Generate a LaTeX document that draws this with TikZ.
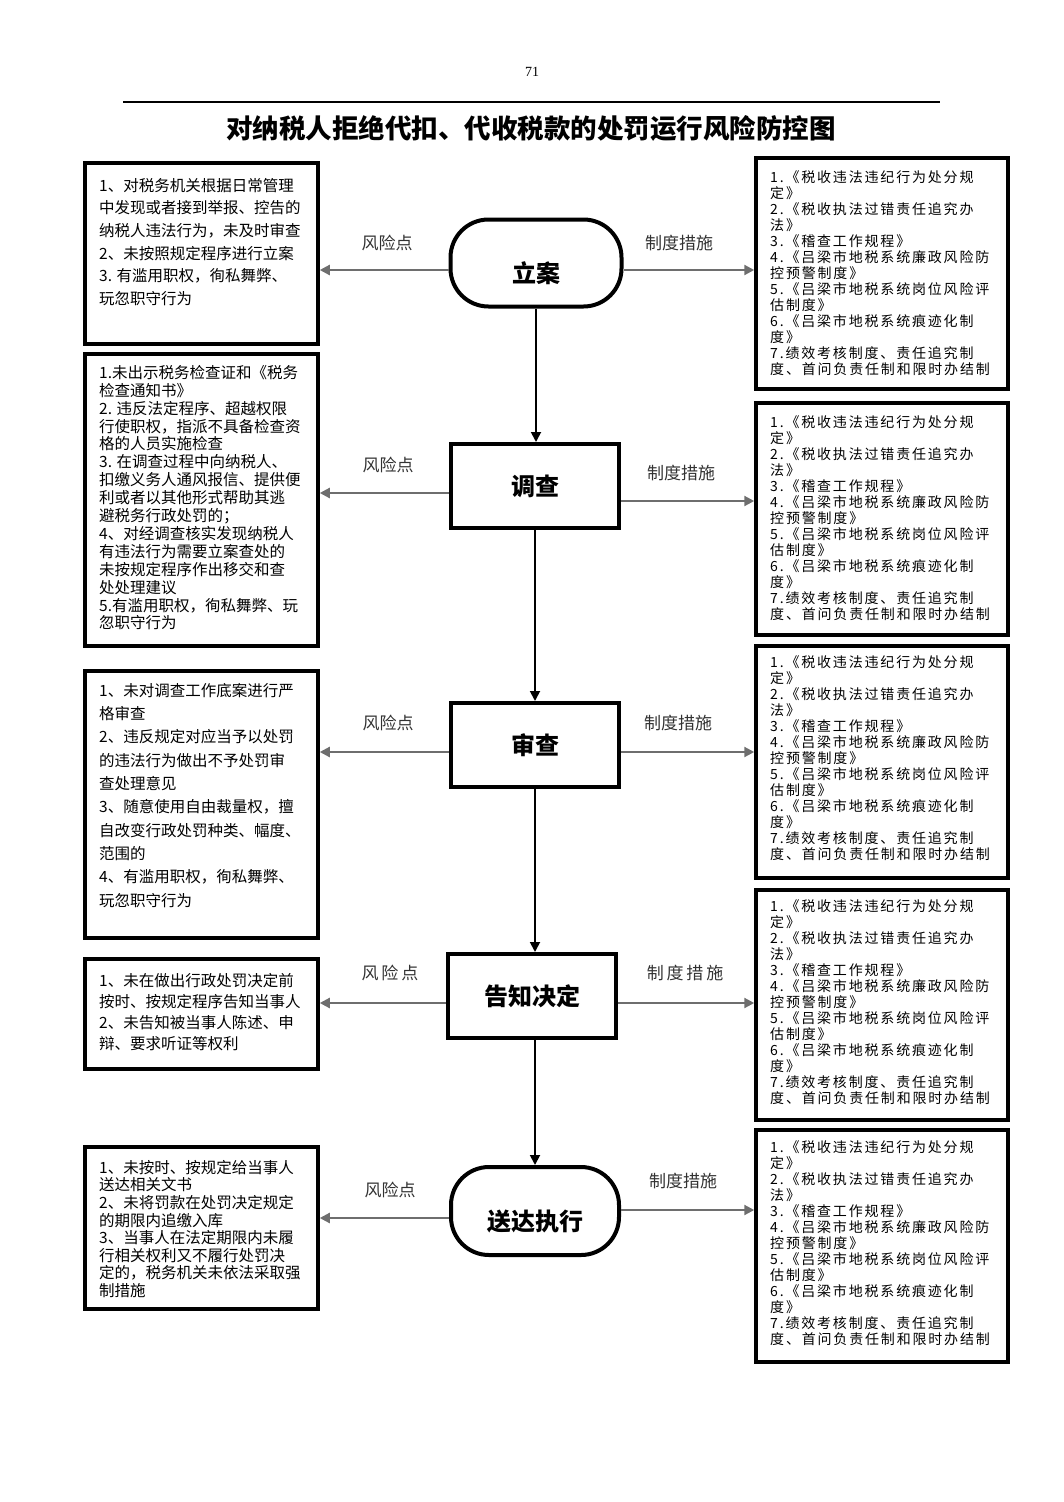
\documentclass[tikz,border=0pt]{standalone}
\usepackage{fontspec}
\setmainfont{Noto Sans CJK SC}
\newfontfamily\listfont{Noto Sans CJK SC}[LetterSpace=13]
\newfontfamily\pagenumfont{Liberation Serif}
\usetikzlibrary{arrows.meta}

\newcommand{\rulelist}{1.《税收违法违纪行为处分规\\定》\\2.《税收执法过错责任追究办\\法》\\3.《稽查工作规程》\\4.《吕梁市地税系统廉政风险防\\控预警制度》\\5.《吕梁市地税系统岗位风险评\\估制度》\\6.《吕梁市地税系统痕迹化制\\度》\\7.绩效考核制度、责任追究制\\度、首问负责任制和限时办结制}

\begin{document}
\begin{tikzpicture}[x=1pt,y=1pt,yscale=-1,xscale=1,
  box/.style={draw, line width=3.5pt, inner sep=0pt},
  stage/.style={draw, line width=4pt, minimum width=168pt, minimum height=84pt, font=\bfseries\fontsize{24}{24}\selectfont},
  endstage/.style={stage, rounded corners=38pt, text height=38pt, text depth=0pt},
  txt/.style={anchor=north west, inner sep=0pt, align=left},
  listtxt/.style={txt, font=\listfont\fontsize{14}{16}\selectfont},
  riskarrow/.style={draw={rgb,255:red,110;green,110;blue,110}, line width=2.2pt, -{Triangle[length=10pt,width=10pt]}},
  flowarrow/.style={draw=black, line width=1.8pt, -{Triangle[length=10pt,width=10pt]}},
  tag/.style={inner sep=0.75pt, text={rgb,255:red,50;green,50;blue,50}, font=\fontsize{17}{17}\selectfont}]
\useasboundingbox (0,0) rectangle (1063,1502);

% Text Node
\node (pagenum) at (532,72) {\pagenumfont\fontsize{14}{14}\selectfont 71};
%Straight Lines
\draw [line width=1.5pt] (123,102) -- (940,102);
% Text Node
\node (title) at (531,128) [font=\bfseries\fontsize{26.5}{26.5}\selectfont] {对纳税人拒绝代扣、代收税款的处罚运行风险防控图};

%Shape: Stages
\node [endstage, minimum width=171pt, minimum height=87pt] (filing) at (536,263) {立案};
\node [stage] (survey) at (535,486) {调查};
\node [stage] (review) at (535,745) {审查};
\node [stage] (notice) at (532,996) {告知决定};
\node [endstage, minimum width=168pt, minimum height=88pt] (execute) at (535,1211) {送达执行};

%Shape: Risk boxes
\node [box, minimum width=233pt, minimum height=181pt] (risk1) at (201.5,253.5) {};
\node [box, minimum width=233pt, minimum height=292pt] (risk2) at (201.5,500) {};
\node [box, minimum width=233pt, minimum height=267pt] (risk3) at (201.5,804.5) {};
\node [box, minimum width=233pt, minimum height=110pt] (risk4) at (201.5,1014) {};
\node [box, minimum width=233pt, minimum height=162pt] (risk5) at (201.5,1228) {};

%Shape: Rule boxes
\node [box, minimum width=252pt, minimum height=231pt] (rule1) at (882,273.5) {};
\node [box, minimum width=252pt, minimum height=232pt] (rule2) at (882,519) {};
\node [box, minimum width=252pt, minimum height=232pt] (rule3) at (882,762) {};
\node [box, minimum width=252pt, minimum height=230pt] (rule4) at (882,1005) {};
\node [box, minimum width=252pt, minimum height=232pt] (rule5) at (882,1246) {};

% Text Node
\node [txt, font=\fontsize{15.5}{22.6}\selectfont] (risk1txt) at (99,178) {1、对税务机关根据日常管理\\中发现或者接到举报、控告的\\纳税人违法行为，未及时审查\\2、未按照规定程序进行立案\\3. 有滥用职权，徇私舞弊、\\玩忽职守行为};
% Text Node
\node [txt, font=\fontsize{15.5}{17.9}\selectfont] (risk2txt) at (99,365) {1.未出示税务检查证和《税务\\检查通知书》\\2. 违反法定程序、超越权限\\行使职权，指派不具备检查资\\格的人员实施检查\\3. 在调查过程中向纳税人、\\扣缴义务人通风报信、提供便\\利或者以其他形式帮助其逃\\避税务行政处罚的；\\4、对经调查核实发现纳税人\\有违法行为需要立案查处的\\未按规定程序作出移交和查\\处处理建议\\5.有滥用职权，徇私舞弊、玩\\忽职守行为};
% Text Node
\node [txt, font=\fontsize{15.5}{23.3}\selectfont] (risk3txt) at (99,683) {1、未对调查工作底案进行严\\格审查\\2、违反规定对应当予以处罚\\的违法行为做出不予处罚审\\查处理意见\\3、随意使用自由裁量权，擅\\自改变行政处罚种类、幅度、\\范围的\\4、有滥用职权，徇私舞弊、\\玩忽职守行为};
% Text Node
\node [txt, font=\fontsize{15.5}{21}\selectfont] (risk4txt) at (99,973) {1、未在做出行政处罚决定前\\按时、按规定程序告知当事人\\2、未告知被当事人陈述、申\\辩、要求听证等权利};
% Text Node
\node [txt, font=\fontsize{15.5}{17.6}\selectfont] (risk5txt) at (99,1160) {1、未按时、按规定给当事人\\送达相关文书\\2、未将罚款在处罚决定规定\\的期限内追缴入库\\3、当事人在法定期限内未履\\行相关权利又不履行处罚决\\定的，税务机关未依法采取强\\制措施};

% Text Node
\node [listtxt] (rule1txt) at (770,170) {\rulelist};
\node [listtxt] (rule2txt) at (770,415) {\rulelist};
\node [listtxt] (rule3txt) at (770,655) {\rulelist};
\node [listtxt] (rule4txt) at (770,899) {\rulelist};
\node [listtxt] (rule5txt) at (770,1140) {\rulelist};

%Flow arrows
\draw [flowarrow] (filing.south) -- (filing.south |- survey.north);
\draw [flowarrow] (survey.south) -- (survey.south |- review.north);
\draw [flowarrow] (review.south) -- (review.south |- notice.north);
\draw [flowarrow] (notice.south -| review.south) -- (review.south |- execute.north);

%Risk and rule arrows
\draw [riskarrow] (filing.west |- 0,270) -- (risk1.east |- 0,270);
\draw [riskarrow] (filing.east |- 0,270) -- (rule1.west |- 0,270);
\draw [riskarrow] (survey.west |- 0,493) -- (risk2.east |- 0,493);
\draw [riskarrow] (survey.east |- 0,501) -- (rule2.west |- 0,501);
\draw [riskarrow] (review.west |- 0,752) -- (risk3.east |- 0,752);
\draw [riskarrow] (review.east |- 0,752) -- (rule3.west |- 0,752);
\draw [riskarrow] (notice.west |- 0,1003) -- (risk4.east |- 0,1003);
\draw [riskarrow] (notice.east |- 0,1003) -- (rule4.west |- 0,1003);
\draw [riskarrow] (execute.west |- 0,1218) -- (risk5.east |- 0,1218);
\draw [riskarrow] (execute.east |- 0,1210) -- (rule5.west |- 0,1210);

% Text Node
\node [tag] (risktag1) at (387,243) {风险点};
\node [tag] (ruletag1) at (679,243) {制度措施};
\node [tag] (risktag2) at (388,465) {风险点};
\node [tag] (ruletag2) at (681,473) {制度措施};
\node [tag] (risktag3) at (388,723) {风险点};
\node [tag] (ruletag3) at (678,723) {制度措施};
\node [tag] (risktag4) at (390,973) {风\,险\,点};
\node [tag] (ruletag4) at (685,973) {制\,度\,措\,施};
\node [tag] (risktag5) at (390,1190) {风险点};
\node [tag] (ruletag5) at (683,1181) {制度措施};

\end{tikzpicture}
\end{document}
